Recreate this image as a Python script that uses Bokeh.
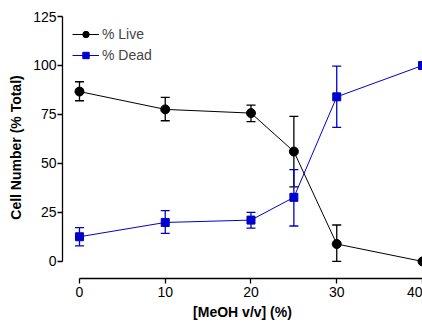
from bokeh.plotting import figure
from bokeh.models import ColumnDataSource, Whisker, TeeHead, Range1d, FixedTicker, Legend, LegendItem
from bokeh.embed import file_html
from bokeh.resources import INLINE

# Data
meoh = [0, 10, 20, 25, 30, 40]
live = [86.7, 77.6, 75.7, 56.1, 8.9, 0.0]
live_hi = [91.7, 83.7, 79.8, 74.0, 18.6, 0.0]
live_lo = [82.0, 71.8, 71.4, 38.1, 0.0, 0.0]
dead = [12.6, 19.9, 21.1, 32.7, 84.0, 100.0]
dead_hi = [17.3, 25.9, 25.0, 46.9, 99.7, 100.0]
dead_lo = [7.9, 14.3, 17.0, 18.1, 68.4, 100.0]
x_ticks = [0, 10, 20, 30, 40]
y_ticks = [0, 25, 50, 75, 100, 125]

BLUE = "#0000CC"
FONT = "Liberation Sans"

p = figure(width=422, height=326, output_backend="svg", toolbar_location=None,
           x_range=Range1d(-1.98, 40), y_range=Range1d(-8.7, 125),
           min_border_left=62, min_border_right=0, min_border_top=16, min_border_bottom=48)
p.outline_line_color = None
p.grid.visible = False
p.background_fill_color = "white"

live_src = ColumnDataSource(dict(x=meoh, y=live))
dead_src = ColumnDataSource(dict(x=meoh, y=dead))

def err_src(vals, hi, lo):
    xs, us, ls = [], [], []
    for xv, v, h, l in zip(meoh, vals, hi, lo):
        if h != l:
            xs.append(xv); us.append(h); ls.append(l)
    return ColumnDataSource(dict(base=xs, upper=us, lower=ls))

for src, col in ((err_src(live, live_hi, live_lo), "black"), (err_src(dead, dead_hi, dead_lo), BLUE)):
    w = Whisker(base="base", upper="upper", lower="lower", source=src, dimension="height",
                line_color=col, line_width=1.3,
                upper_head=TeeHead(size=9, line_color=col, line_width=1.3),
                lower_head=TeeHead(size=9, line_color=col, line_width=1.3))
    p.add_layout(w)

l1 = p.line("x", "y", source=live_src, line_color="black", line_width=1)
m1 = p.scatter("x", "y", source=live_src, marker="circle", size=9, fill_color="black", line_color="black")
l2 = p.line("x", "y", source=dead_src, line_color=BLUE, line_width=1)
m2 = p.scatter("x", "y", source=dead_src, marker="square", size=8, fill_color=BLUE, line_color=BLUE)

legend = Legend(items=[LegendItem(label="% Live", renderers=[l1, m1]),
                       LegendItem(label="% Dead", renderers=[l2, m2])],
                location="top_left", margin=0, padding=10, spacing=5,
                glyph_width=27, glyph_height=16, label_height=16, label_standoff=3,
                label_text_font=FONT, label_text_font_size="14px",
                background_fill_alpha=0, border_line_alpha=0)
p.add_layout(legend)

for ax in (p.xaxis[0], p.yaxis[0]):
    ax.axis_line_color = "black"
    ax.axis_line_width = 1.3
    ax.major_tick_line_color = "black"
    ax.major_tick_line_width = 1.3
    ax.major_tick_out = 5
    ax.major_tick_in = 0
    ax.minor_tick_line_color = None
    ax.major_label_text_font = FONT
    ax.major_label_text_font_size = "14px"
    ax.major_label_text_color = "black"
    ax.axis_label_text_font = FONT
    ax.axis_label_text_font_size = "14px"
    ax.axis_label_text_font_style = "bold"
    ax.axis_label_text_color = "black"

p.xaxis[0].ticker = FixedTicker(ticks=x_ticks)
p.xaxis[0].bounds = (0, 40)
p.xaxis[0].axis_label = "[MeOH v/v] (%)"
p.xaxis[0].major_label_standoff = 3
p.xaxis[0].axis_label_standoff = 4

p.yaxis[0].ticker = FixedTicker(ticks=y_ticks)
p.yaxis[0].bounds = (0, 125)
p.yaxis[0].axis_label = "Cell Number (% Total)"
p.yaxis[0].major_label_standoff = 1
p.yaxis[0].axis_label_standoff = 6

open("out.html", "w").write(file_html(p, INLINE))
